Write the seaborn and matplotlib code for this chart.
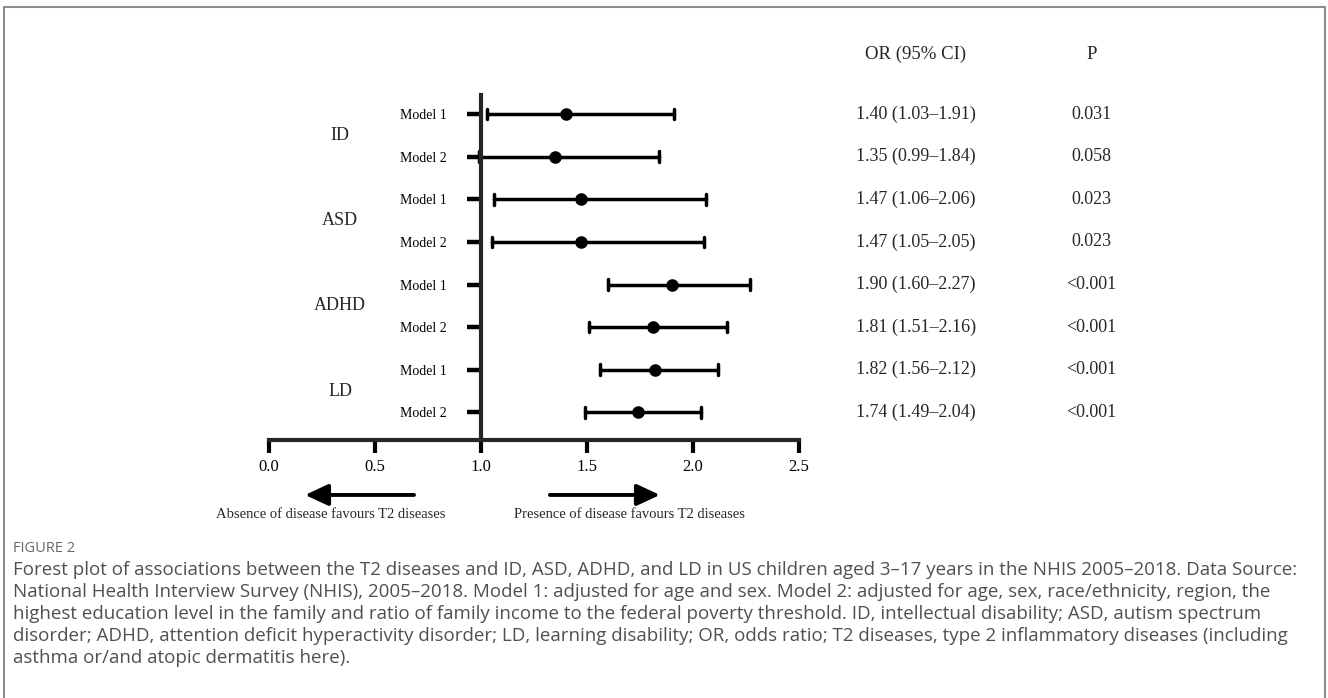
import pandas as pd
import matplotlib.pyplot as plt
import seaborn as sns
from matplotlib.patches import Rectangle

sns.set_style("ticks")
plt.rcParams["font.family"] = ["Liberation Serif", "DejaVu Serif"]

# data
groups = ["ID", "ASD", "ADHD", "LD"]
models = ["Model 1", "Model 2"]
odds_ratio = [1.40, 1.35, 1.47, 1.47, 1.90, 1.81, 1.82, 1.74]
ci_low = [1.03, 0.99, 1.06, 1.05, 1.60, 1.51, 1.56, 1.49]
ci_high = [1.91, 1.84, 2.06, 2.05, 2.27, 2.16, 2.12, 2.04]
p_values = ["0.031", "0.058", "0.023", "0.023", "<0.001", "<0.001", "<0.001", "<0.001"]
x_ticks = [0.0, 0.5, 1.0, 1.5, 2.0, 2.5]

caption_lines = [
    "Forest plot of associations between the T2 diseases and ID, ASD, ADHD, and LD in US children aged 3–17 years in the NHIS 2005–2018. Data Source:",
    "National Health Interview Survey (NHIS), 2005–2018. Model 1: adjusted for age and sex. Model 2: adjusted for age, sex, race/ethnicity, region, the",
    "highest education level in the family and ratio of family income to the federal poverty threshold. ID, intellectual disability; ASD, autism spectrum",
    "disorder; ADHD, attention deficit hyperactivity disorder; LD, learning disability; OR, odds ratio; T2 diseases, type 2 inflammatory diseases (including",
    "asthma or/and atopic dermatitis here).",
]

# long format: lower, estimate, upper per row -> median = OR, 100% interval = CI
row_names = [f"{g} {m}" for g in groups for m in models]
records = []
for name, lo, est, hi in zip(row_names, ci_low, odds_ratio, ci_high):
    for v in (lo, est, hi):
        records.append({"row": name, "value": v})
df = pd.DataFrame(records)

W, H = 1328, 698
fig = plt.figure(figsize=(W / 100, H / 100), dpi=100)
ax = fig.add_axes([269 / W, 1 - 440 / H, 530 / W, (440 - 95) / H])

sns.pointplot(data=df, x="value", y="row", order=row_names,
              estimator="median", errorbar=("pi", 100),
              orient="h", linestyle="none", color="black",
              markers="o", markersize=7, capsize=0.25,
              err_kws={"linewidth": 2.5}, ax=ax)

ax.set_xlim(0, 2.5)
ax.set_ylim(7.65, -0.45)
ax.set_xticks(x_ticks)
ax.set_xticklabels([f"{t:.1f}" for t in x_ticks], fontsize=12)
ax.set_yticks(range(len(row_names)))
ax.set_yticklabels(models * len(groups), fontsize=10.7)
ax.set_xlabel("")
ax.set_ylabel("")

for side in ["top", "right"]:
    ax.spines[side].set_visible(False)
ax.spines["left"].set_position(("data", 1.0))
ax.spines["left"].set_linewidth(3)
ax.spines["bottom"].set_linewidth(3)
ax.tick_params(axis="y", length=10, width=3.2, pad=15, colors="black")
ax.tick_params(axis="x", length=9.5, width=3, pad=4, colors="black")

# group labels
for i, g in enumerate(groups):
    ax.text(0.335, 2 * i + 0.5, g, ha="center", va="center", fontsize=13)

# right-hand table
ax.text(3.05, -1.41, "OR (95% CI)", ha="center", va="center", fontsize=13.5)
ax.text(3.88, -1.41, "P", ha="center", va="center", fontsize=13.5)
for i in range(len(row_names)):
    ax.text(3.05, i, f"{odds_ratio[i]:.2f} ({ci_low[i]:.2f}–{ci_high[i]:.2f})",
            ha="center", va="center", fontsize=13)
    ax.text(3.88, i, p_values[i], ha="center", va="center", fontsize=13)

# direction arrows
arrow = dict(arrowstyle="-|>,head_length=1.4,head_width=0.65", lw=2.8,
             color="black", shrinkA=0, shrinkB=0)
ax.annotate("", xy=(0.17, 8.94), xytext=(0.684, 8.94), arrowprops=arrow,
            annotation_clip=False)
ax.annotate("", xy=(1.844, 8.94), xytext=(1.325, 8.94), arrowprops=arrow,
            annotation_clip=False)
ax.text(0.292, 9.41, "Absence of disease favours T2 diseases",
        ha="center", va="center", fontsize=10.5)
ax.text(1.698, 9.41, "Presence of disease favours T2 diseases",
        ha="center", va="center", fontsize=10.5)

# caption
fig.text(13 / W, 1 - 548 / H, "FIGURE 2", fontsize=10.5, color="#666666",
         family=["Open Sans", "DejaVu Sans"], va="center")
for k, line in enumerate(caption_lines):
    fig.text(13 / W, 1 - (570 + 22 * k) / H, line, fontsize=13.5, color="#505050",
             family=["Open Sans", "DejaVu Sans"], va="center")

fig.patches.append(Rectangle((4 / W, -0.05), (1325 - 4) / W, 1.05 - 7 / H,
                             transform=fig.transFigure, fill=False,
                             edgecolor="#8c8c8c", lw=1.5))

fig.savefig("out.png", dpi=100)
